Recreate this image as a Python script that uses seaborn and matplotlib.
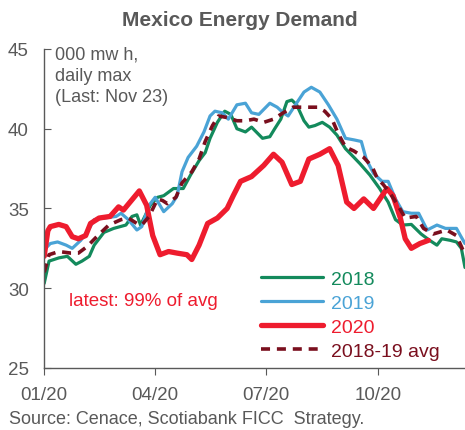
import matplotlib
matplotlib.use("Agg")
import matplotlib.pyplot as plt
import matplotlib.dates as mdates
import seaborn as sns
import pandas as pd

# day-of-year offsets (from Jan 1) and values
days_2018 = [0, 4, 12, 19, 26, 31, 37, 41, 49, 57, 67, 72, 76, 79, 87, 93, 98, 106, 114, 120,
             127, 132, 136, 142, 148, 153, 158, 165, 170, 179, 185, 189, 194, 199, 203, 207,
             213, 217, 222, 228, 234, 240, 247, 254, 259, 267, 275, 282, 288, 294, 301, 309,
             316, 322, 326, 333, 338, 342, 345]
vals_2018 = [30.3, 31.7, 31.9, 32.0, 31.5, 31.7, 32.0, 32.7, 33.5, 33.75, 33.96, 34.5, 34.6, 33.96,
             35.2, 35.7, 35.8, 36.25, 36.25, 37.1, 38.0, 38.5, 39.4, 40.4, 41.1, 40.9, 40.0,
             39.8, 40.1, 39.4, 39.5, 40.0, 40.6, 41.7, 41.8, 41.5, 40.5, 40.1, 40.2, 40.4, 40.1,
             39.6, 38.75, 38.2, 37.8, 37.1, 36.25, 35.4, 34.3, 33.96, 34.0, 33.4, 33.0, 32.7,
             33.1, 33.0, 32.9, 32.5, 31.3]

days_2019 = [0, 5, 11, 18, 23, 30, 37, 41, 49, 59, 63, 69, 76, 80, 86, 91, 98, 105, 109, 113,
             118, 125, 131, 136, 140, 146, 151, 158, 165, 170, 176, 185, 191, 196, 200, 206,
             213, 219, 226, 233, 240, 247, 254, 260, 264, 270, 277, 282, 288, 294, 301, 307,
             314, 322, 329, 338, 342, 345]
vals_2019 = [32.4, 32.8, 32.9, 32.7, 32.5, 33.0, 33.75, 34.3, 34.4, 34.5, 34.7, 34.3, 33.65, 33.86,
             35.2, 35.7, 34.8, 35.3, 35.8, 37.3, 38.2, 38.9, 39.8, 40.8, 41.1, 41.0, 40.6, 41.5,
             41.6, 41.0, 40.9, 41.6, 41.35, 41.0, 40.8, 41.5, 42.3, 42.6, 42.3, 41.5, 40.6, 39.4,
             39.3, 39.2, 38.1, 37.2, 36.7, 36.7, 35.6, 34.8, 34.7, 34.7, 33.65, 33.96, 33.75,
             33.75, 33.2, 32.8]

days_2020 = [0, 3, 5, 12, 18, 23, 28, 34, 38, 45, 54, 61, 65, 78, 84, 89, 95, 102, 109, 117,
             121, 127, 134, 142, 150, 155, 161, 170, 180, 188, 195, 203, 210, 217, 226, 234,
             241, 248, 254, 262, 270, 281, 286, 292, 296, 301, 308, 315]
vals_2020 = [32.0, 33.6, 33.86, 34.0, 33.86, 33.23, 33.1, 33.3, 34.06, 34.4, 34.5, 35.1, 34.9, 36.1,
             35.2, 33.3, 32.1, 32.3, 32.2, 32.1, 31.8, 32.7, 34.06, 34.4, 35.0, 35.8, 36.7, 37.0,
             37.7, 38.4, 37.9, 36.5, 36.7, 38.1, 38.4, 38.75, 37.7, 35.4, 35.0, 35.6, 35.0,
             36.25, 35.8, 34.4, 33.1, 32.5, 32.8, 33.0]

days_avg = [0, 4, 12, 22, 28, 35, 44, 53, 63, 69, 76, 80, 86, 93, 97, 101, 108, 113, 121, 127,
            132, 138, 143, 150, 158, 165, 172, 180, 188, 196, 204, 224, 230, 236, 241, 247,
            254, 262, 269, 273, 278, 284, 290, 296, 305, 311, 319, 330, 338, 345]
vals_avg = [31.0, 32.1, 32.3, 32.2, 32.2, 32.6, 33.3, 33.96, 34.3, 34.4, 34.06, 33.96, 34.5, 35.6,
            35.5, 35.3, 35.7, 36.6, 37.3, 38.1, 39.2, 40.2, 40.8, 40.7, 40.5, 40.5, 40.6, 40.4,
            40.6, 41.0, 41.35, 41.35, 41.1, 40.6, 39.7, 38.85, 38.6, 38.2, 37.6, 36.9, 36.5,
            35.9, 35.2, 34.4, 34.5, 33.75, 33.4, 33.65, 33.3, 32.1]

labels = ["2018", "2019", "2020", "2018-19 avg"]
colors = ["#138a5c", "#4aa3d6", "#ee1c2e", "#7a0f1e"]

start = pd.Timestamp("2020-01-01")


def to_dates(days):
    return start + pd.to_timedelta(days, unit="D")


sns.set_style("ticks")
plt.rcParams["font.family"] = ["Liberation Sans", "DejaVu Sans"]
grey = "#595959"

fig = plt.figure(figsize=(4.65, 4.31), dpi=100)
ax = fig.add_axes([0.095, 0.144, 0.905, 0.740])

series = [(days_2018, vals_2018), (days_2019, vals_2019), (days_2020, vals_2020), (days_avg, vals_avg)]
widths = [2.3, 2.3, 3.8, 2.6]
for (d, v), lab, col, lw in zip(series, labels, colors, widths):
    sns.lineplot(x=to_dates(d), y=v, color=col, lw=lw, label=lab, ax=ax)
ax.lines[-1].set_dashes([2.5, 1.9])

ax.set_ylim(25, 45)
ax.set_yticks([25, 30, 35, 40, 45])
ax.set_xlim(start, start + pd.Timedelta(days=345))
ax.set_xticks(pd.to_datetime(["2020-01-01", "2020-04-01", "2020-07-01", "2020-10-01"]))
ax.xaxis.set_major_formatter(mdates.DateFormatter("%m/%y"))

for side in ["top", "right"]:
    ax.spines[side].set_visible(False)
for side in ["left", "bottom"]:
    ax.spines[side].set_color(grey)
    ax.spines[side].set_linewidth(1.0)
ax.tick_params(axis="y", direction="in", length=5, color=grey, labelcolor=grey, labelsize=13.5, pad=11)
ax.tick_params(axis="x", direction="out", length=5, color=grey, labelcolor=grey, labelsize=13.5, pad=8)
ax.set_xlabel("")
ax.set_ylabel("")

leg = ax.legend(loc="upper left", bbox_to_anchor=(0.515, 0.306), frameon=False, fontsize=14,
                borderpad=0, borderaxespad=0, handlelength=3.2, labelspacing=0.33,
                handletextpad=0.4, labelcolor="linecolor")

ax.text(0.025, 1.01, "000 mw h,\ndaily max\n(Last: Nov 23)", transform=ax.transAxes,
        ha="left", va="top", color=grey, fontsize=13, linespacing=1.3)
ax.text(0.06, 0.21, "latest: 99% of avg", transform=ax.transAxes,
        ha="left", va="center", color="#ee1c2e", fontsize=13.5)

fig.suptitle("Mexico Energy Demand", x=0.515, y=0.975, fontsize=15, fontweight="bold", color=grey)
fig.text(0.02, 0.008, "Source: Cenace, Scotiabank FICC  Strategy.", color=grey, fontsize=13,
         ha="left", va="bottom")

fig.savefig("out.png", dpi=100)
